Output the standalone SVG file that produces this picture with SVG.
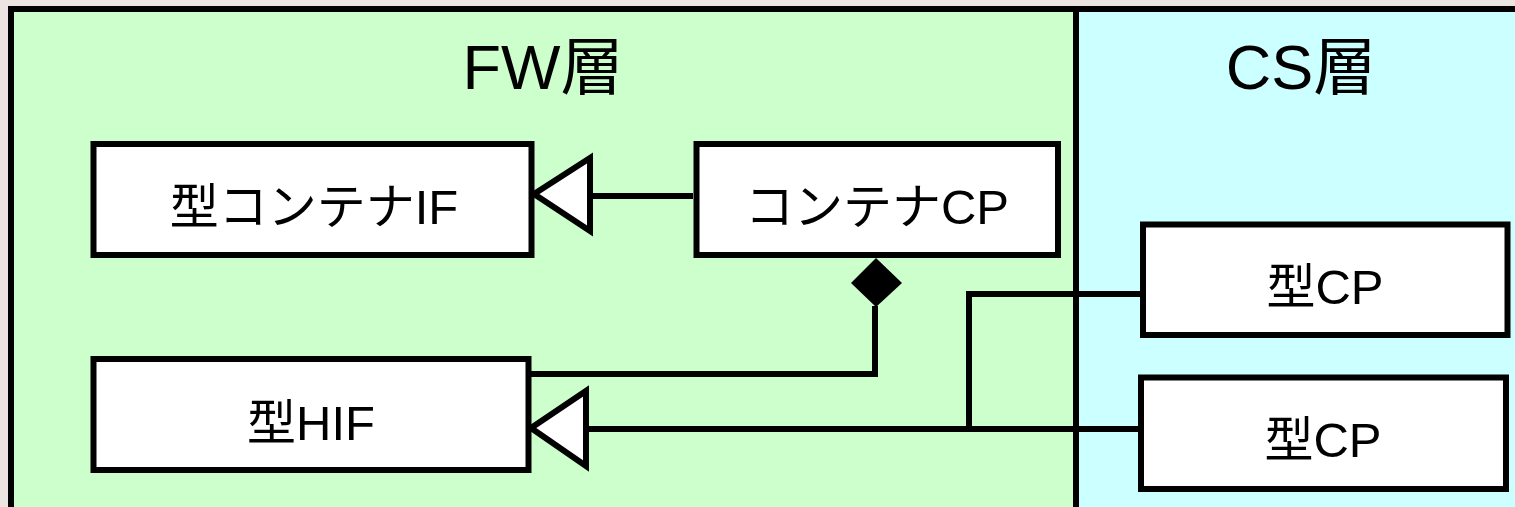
<svg xmlns="http://www.w3.org/2000/svg" width="1515" height="507" viewBox="0 0 1515 507">
<style>
.box{fill:#ffffff;stroke:#000;stroke-width:6}
.lbl{font-family:"Liberation Sans","Noto Sans CJK JP",sans-serif;font-size:49px;fill:#000;text-anchor:middle}
.ttl{font-family:"Liberation Sans","Noto Sans CJK JP",sans-serif;font-size:63px;fill:#000;text-anchor:middle}
.ln{fill:none;stroke:#000;stroke-width:6}
.tri{fill:#fff;stroke:#000;stroke-width:6;stroke-linejoin:miter}
</style>
<rect x="0" y="0" width="1515" height="507" fill="#ebe4e1"/>
<g id="fw-layer">
<rect x="11" y="9" width="1065" height="520" fill="#ccffcc" stroke="#000" stroke-width="6"/>
<text class="ttl" x="543" y="89">FW層</text>
</g>
<g id="cs-layer">
<rect x="1076" y="9" width="460" height="520" fill="#ccffff" stroke="#000" stroke-width="6"/>
<text class="ttl" x="1301" y="89">CS層</text>
</g>
<g id="connectors">
<polyline class="ln" points="693,196 590,196"/>
<polygon class="tri" points="534,194 590,158 590,231"/>
<polygon points="876,258 902,283 876,307 851,283" fill="#000"/>
<polyline class="ln" points="875,306 875,374 531,374"/>
<polyline class="ln" points="1141,429 586,429"/>
<polygon class="tri" points="531,428 586,391 586,466"/>
<polyline class="ln" points="1141,294 969,294 969,429"/>
</g>
<g id="node-container-if">
<rect class="box" x="93.5" y="144" width="438" height="111"/>
<text class="lbl" x="314" y="224">型コンテナIF</text>
</g>
<g id="node-container-cp">
<rect class="box" x="696.5" y="144" width="361.5" height="111"/>
<text class="lbl" x="877" y="224">コンテナCP</text>
</g>
<g id="node-type-hif">
<rect class="box" x="93.5" y="359" width="435" height="111"/>
<text class="lbl" x="311" y="440">型HIF</text>
</g>
<g id="node-type-cp1">
<rect class="box" x="1143" y="224.5" width="364.5" height="110.5"/>
<text class="lbl" x="1325" y="304">型CP</text>
</g>
<g id="node-type-cp2">
<rect class="box" x="1141" y="377.5" width="365" height="111.5"/>
<text class="lbl" x="1323" y="457">型CP</text>
</g>
</svg>
